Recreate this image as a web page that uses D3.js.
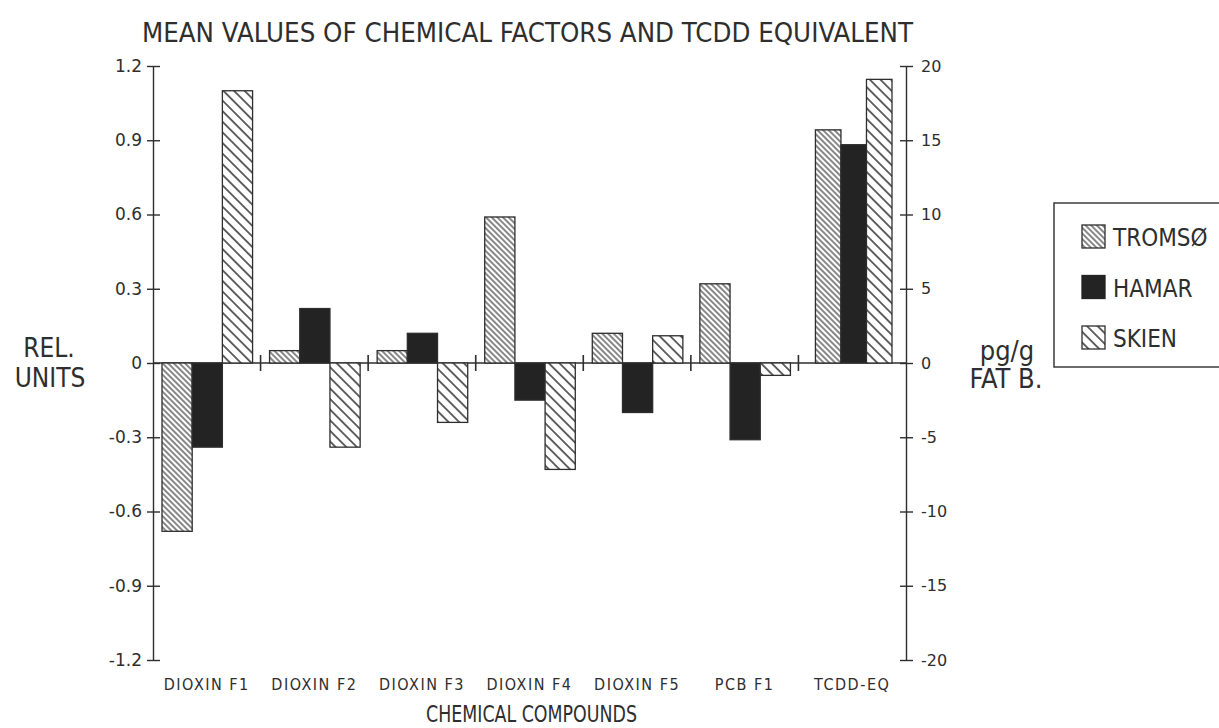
<!DOCTYPE html>
<html>
<head>
<meta charset="utf-8">
<script src="https://cdn.jsdelivr.net/npm/d3@7"></script>
<style>
  body { margin: 0; background: #fff; }
  svg text { fill: #2e2e2e; }
  .plot { font-family: 'DejaVu Sans Condensed', 'DejaVu Sans', sans-serif; font-stretch: condensed; }
</style>
</head>
<body>
<div id="chart"></div>
<script>
  // data
  var categories = ['DIOXIN F1', 'DIOXIN F2', 'DIOXIN F3', 'DIOXIN F4', 'DIOXIN F5', 'PCB F1', 'TCDD-EQ'];
  var series = ['TROMSØ', 'HAMAR', 'SKIEN'];
  // relative units (left axis), first six compounds
  var tromso = [-0.68, 0.05, 0.05, 0.59, 0.12, 0.32];
  var hamar = [-0.34, 0.22, 0.12, -0.15, -0.20, -0.31];
  var skien = [1.10, -0.34, -0.24, -0.43, 0.11, -0.05];
  // TCDD equivalent in pg/g fat (right axis): tromsø, hamar, skien
  var tcddEq = [15.7, 14.7, 19.1];
  var leftTicks = [1.2, 0.9, 0.6, 0.3, 0, -0.3, -0.6, -0.9, -1.2];
  var rightTicks = [20, 15, 10, 5, 0, -5, -10, -15, -20];

  (function() {
    var width = 1219, height = 728;
    var mLeft = 153, mRight = 906, mTop = 66, mBottom = 660;
    var ink = '#2e2e2e';

    var svg = d3.select('#chart').append('svg')
      .attr('class', 'plot')
      .attr('width', width)
      .attr('height', height);

    var defs = svg.append('defs');
    function hatch(id, gap, sw, color) {
      var p = defs.append('pattern')
        .attr('id', id)
        .attr('patternUnits', 'userSpaceOnUse')
        .attr('width', gap).attr('height', gap)
        .attr('patternTransform', 'rotate(45)');
      p.append('rect').attr('width', gap).attr('height', gap).attr('fill', '#fff');
      p.append('line')
        .attr('x1', 0).attr('y1', gap / 2).attr('x2', gap).attr('y2', gap / 2)
        .attr('stroke', color).attr('stroke-width', sw);
    }
    hatch('hatch-tromso', 4, 1.4, '#555');
    hatch('hatch-skien', 7.5, 1.5, '#333');

    var fills = {
      'TROMSØ': 'url(#hatch-tromso)',
      'HAMAR': '#232323',
      'SKIEN': 'url(#hatch-skien)'
    };

    var yLeft = d3.scaleLinear().domain([-1.2, 1.2]).range([mBottom, mTop]);
    var yRight = d3.scaleLinear().domain([-20, 20]).range([mBottom, mTop]);
    var x0 = d3.scaleBand().domain(categories).range([mLeft, mRight]).padding(0);
    var x1 = d3.scaleBand().domain(series).range([9, x0.bandwidth() - 8]).padding(0);
    var x1Eq = d3.scaleBand().domain(series).range([17, x0.bandwidth() - 14]).padding(0);

    var rows = [];
    categories.forEach(function(c, i) {
      if (i < 6) {
        rows.push({cat: c, s: 'TROMSØ', y0: yLeft(0), y1: yLeft(tromso[i]), x: x0(c) + x1('TROMSØ'), w: x1.bandwidth()});
        rows.push({cat: c, s: 'HAMAR', y0: yLeft(0), y1: yLeft(hamar[i]), x: x0(c) + x1('HAMAR'), w: x1.bandwidth()});
        rows.push({cat: c, s: 'SKIEN', y0: yLeft(0), y1: yLeft(skien[i]), x: x0(c) + x1('SKIEN'), w: x1.bandwidth()});
      } else {
        series.forEach(function(s, j) {
          rows.push({cat: c, s: s, y0: yRight(0), y1: yRight(tcddEq[j]), x: x0(c) + x1Eq(s), w: x1Eq.bandwidth()});
        });
      }
    });

    // zero line
    svg.append('line')
      .attr('x1', mLeft).attr('x2', mRight)
      .attr('y1', yLeft(0)).attr('y2', yLeft(0))
      .attr('stroke', ink).attr('stroke-width', 1.4);

    // separators between compounds on the zero line
    svg.selectAll('.sep').data(categories.slice(1)).enter().append('line')
      .attr('class', 'sep')
      .attr('x1', function(d) { return x0(d); })
      .attr('x2', function(d) { return x0(d); })
      .attr('y1', yLeft(0) - 8).attr('y2', yLeft(0) + 8)
      .attr('stroke', ink).attr('stroke-width', 1.6);

    svg.selectAll('.bar').data(rows).enter().append('rect')
      .attr('class', 'bar')
      .attr('x', function(d) { return d.x; })
      .attr('width', function(d) { return d.w; })
      .attr('y', function(d) { return Math.min(d.y0, d.y1); })
      .attr('height', function(d) { return Math.abs(d.y1 - d.y0); })
      .attr('fill', function(d) { return fills[d.s]; })
      .attr('stroke', ink)
      .attr('stroke-width', 1.3);

    // left axis
    var gL = svg.append('g')
      .attr('transform', 'translate(' + mLeft + ',0)')
      .call(d3.axisLeft(yLeft).tickValues(leftTicks).tickSize(6).tickSizeOuter(0).tickPadding(5)
        .tickFormat(function(d) { return d === 0 ? '0' : d.toFixed(1); }));
    gL.selectAll('.tick line').attr('x2', -6).attr('x1', 7);
    gL.selectAll('path, line').attr('stroke', ink).attr('stroke-width', 1.4);
    gL.selectAll('text').attr('font-family', 'DejaVu Sans').style('font-stretch', 'normal')
      .attr('font-size', 17).attr('fill', ink);

    // right axis
    var gR = svg.append('g')
      .attr('transform', 'translate(' + mRight + ',0)')
      .call(d3.axisRight(yRight).tickValues(rightTicks).tickSize(7).tickSizeOuter(0).tickPadding(8)
        .tickFormat(function(d) { return String(d); }));
    gR.selectAll('.tick line').attr('x1', -6).attr('x2', 7);
    gR.selectAll('path, line').attr('stroke', ink).attr('stroke-width', 1.4);
    gR.selectAll('text').attr('font-family', 'DejaVu Sans').style('font-stretch', 'normal')
      .attr('font-size', 16).attr('fill', ink);

    // x labels
    svg.selectAll('.xlab').data(categories).enter().append('text')
      .attr('class', 'xlab')
      .attr('x', function(d) { return x0(d) + x0.bandwidth() / 2; })
      .attr('y', 690)
      .attr('text-anchor', 'middle')
      .attr('font-size', 16)
      .attr('letter-spacing', 1.5)
      .text(function(d) { return d; });

    // titles
    svg.append('text')
      .attr('x', 142).attr('y', 42)
      .attr('font-size', 26)
      .attr('textLength', 771).attr('lengthAdjust', 'spacingAndGlyphs')
      .text('MEAN VALUES OF CHEMICAL FACTORS AND TCDD EQUIVALENT');

    svg.append('text')
      .attr('x', 426).attr('y', 722)
      .attr('font-size', 23)
      .attr('textLength', 211).attr('lengthAdjust', 'spacingAndGlyphs')
      .text('CHEMICAL COMPOUNDS');

    svg.append('text').attr('x', 49).attr('y', 357).attr('text-anchor', 'middle')
      .attr('font-size', 26).text('REL.');
    svg.append('text').attr('x', 50).attr('y', 387).attr('text-anchor', 'middle')
      .attr('font-size', 26).text('UNITS');

    svg.append('text').attr('x', 1007).attr('y', 360).attr('text-anchor', 'middle')
      .attr('font-size', 27).text('pg/g');
    svg.append('text').attr('x', 1006).attr('y', 388).attr('text-anchor', 'middle')
      .attr('font-size', 27).text('FAT B.');

    // legend
    var legend = svg.append('g');
    legend.append('rect')
      .attr('x', 1054).attr('y', 203)
      .attr('width', 200).attr('height', 164)
      .attr('fill', '#fff').attr('stroke', ink).attr('stroke-width', 1.4);
    var legY = d3.scalePoint().domain(series).range([236, 337]);
    var item = legend.selectAll('.leg').data(series).enter().append('g')
      .attr('class', 'leg')
      .attr('transform', function(d) { return 'translate(1082,' + legY(d) + ')'; });
    item.append('rect')
      .attr('x', 0).attr('y', -11).attr('width', 23).attr('height', 23)
      .attr('fill', function(d) { return fills[d]; })
      .attr('stroke', function(d) { return d === 'HAMAR' ? '#232323' : ink; })
      .attr('stroke-width', 1.3);
    item.append('text')
      .attr('x', 31).attr('y', 10)
      .attr('font-size', 24)
      .text(function(d) { return d; });
  })();
</script>
</body>
</html>
